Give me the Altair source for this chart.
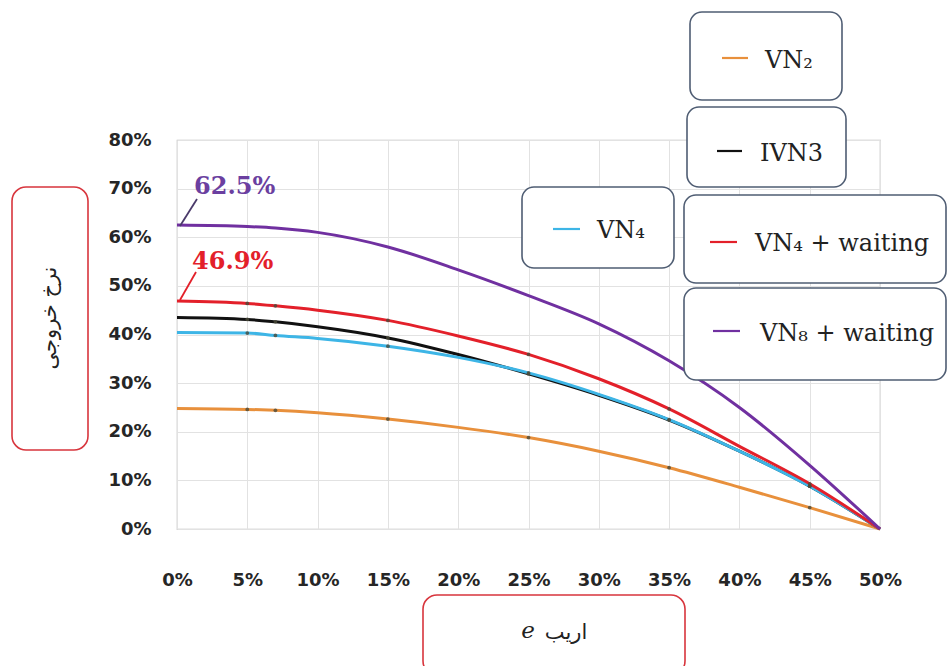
import altair as alt
import pandas as pd

# ---------------- data ----------------
e_vals = [0, 0.05, 0.07, 0.10, 0.15, 0.20, 0.25, 0.30, 0.35, 0.40, 0.45, 0.50]
vn2 = [24.8, 24.6, 24.4, 23.9, 22.6, 20.9, 18.8, 16.0, 12.6, 8.6, 4.4, 0]
ivn3 = [43.5, 43.1, 42.6, 41.6, 39.3, 35.9, 31.9, 27.5, 22.4, 16.0, 8.8, 0]
vn4 = [40.4, 40.3, 39.8, 39.2, 37.6, 35.3, 32.1, 27.7, 22.5, 16.0, 8.8, 0]
vn4w = [46.9, 46.4, 45.9, 45.0, 42.9, 39.7, 35.9, 30.9, 24.7, 17.0, 9.3, 0]
vn8w = [62.5, 62.2, 61.9, 61.0, 58.0, 53.3, 48.0, 42.2, 34.6, 25.0, 13.1, 0]

series_names = ["VN2", "IVN3", "VN4", "VN4 + waiting", "VN8 + waiting"]
series_vals = [vn2, ivn3, vn4, vn4w, vn8w]
series_colors = ["#E8903C", "#111111", "#3DB5E6", "#E3202A", "#7030A0"]
marker_e = [0.05, 0.07, 0.15, 0.25, 0.35, 0.45]
marker_series = ["VN2", "IVN3", "VN4", "VN4 + waiting"]

x_ticks = [0, 0.05, 0.10, 0.15, 0.20, 0.25, 0.30, 0.35, 0.40, 0.45, 0.50]
y_ticks = [0, 0.1, 0.2, 0.3, 0.4, 0.5, 0.6, 0.7, 0.8]

legend_labels = ["VN\u2082", "IVN3", "VN\u2084", "VN\u2084 + waiting", "VN\u2088 + waiting"]
y_title = "نرخ خروجی"
x_title_fa = "اریب"
x_title_sym = "e"
peak_labels = ["62.5%", "46.9%"]

rows = []
for name, vals in zip(series_names, series_vals):
    for e, v in zip(e_vals, vals):
        rows.append({"e": e, "rate": v / 100.0, "series": name})
df = pd.DataFrame(rows)
df_markers = df[df["e"].isin(marker_e) & df["series"].isin(marker_series)]

# ---------------- layout ----------------
OX, OY = 177, 140          # plot origin in the page
W, H = 703, 389


def rx(x):
    return x - OX


def ry(y):
    return y - OY


one = pd.DataFrame({"k": [0]})

xscale = alt.Scale(domain=[0, 0.5], nice=False)
yscale = alt.Scale(domain=[0, 0.8], nice=False)
color = alt.Color("series:N", scale=alt.Scale(domain=series_names, range=series_colors), legend=None)

axis_common = dict(
    format=".0%",
    labelFont="DejaVu Sans",
    labelFontWeight="bold",
    labelFontSize=18,
    labelColor="#262626",
    ticks=False,
    domain=False,
    grid=True,
    gridColor="#e2e2e2",
    gridWidth=1,
    title=None,
    labelFlush=False,
    labelOverlap=False,
)

lines = alt.Chart(df).mark_line(strokeWidth=3, interpolate="monotone").encode(
    x=alt.X("e:Q", scale=xscale, axis=alt.Axis(values=x_ticks, labelPadding=42, **axis_common)),
    y=alt.Y("rate:Q", scale=yscale, axis=alt.Axis(values=y_ticks, labelPadding=26, **axis_common)),
    color=color,
    order=alt.Order("e:Q"),
)

markers = alt.Chart(df_markers).mark_point(filled=True, size=14, opacity=0.8, color="#4a4a3a").encode(
    x=alt.X("e:Q", scale=xscale),
    y=alt.Y("rate:Q", scale=yscale),
)

layers = [lines, markers]


def box(x1, y1, x2, y2, stroke, radius=12, sw=1.6):
    return alt.Chart(one).mark_rect(
        fill="white", stroke=stroke, strokeWidth=sw, cornerRadius=radius
    ).encode(
        x=alt.value(rx(x1)), x2=alt.value(rx(x2)),
        y=alt.value(ry(y1)), y2=alt.value(ry(y2)),
    )


def seg(x1, y1, x2, y2, col, sw=2.2):
    return alt.Chart(one).mark_rule(color=col, strokeWidth=sw).encode(
        x=alt.value(rx(x1)), x2=alt.value(rx(x2)),
        y=alt.value(ry(y1)), y2=alt.value(ry(y2)),
    )


def txt(x, y, s, size, col="#222222", font="DejaVu Serif", align="left",
        weight="normal", style="normal", angle=0):
    return alt.Chart(one).mark_text(
        text=s, fontSize=size, color=col, font=font, align=align,
        baseline="middle", fontWeight=weight, fontStyle=style, angle=angle,
    ).encode(x=alt.value(rx(x)), y=alt.value(ry(y)))


# peak annotations
layers += [
    seg(180, 226, 197, 199, "#4a3a6a", 1.8),
    txt(194, 187, peak_labels[0], 24, "#6B3FA0", "DejaVu Serif", weight="bold"),
    seg(180, 300, 196, 272, "#E3202A", 1.8),
    txt(192, 262, peak_labels[1], 24, "#E3202A", "DejaVu Serif", weight="bold"),
]

# axis title boxes
red_box = "#D8353D"
layers += [
    box(12, 187, 88, 450, red_box, 14),
    txt(50, 318, y_title, 21, "#222222", "DejaVu Sans", align="center", angle=270),
    box(423, 595, 685, 675, red_box, 14),
    txt(566, 633, x_title_fa, 21, "#222222", "DejaVu Sans", align="center"),
    txt(528, 631, x_title_sym, 23, "#222222", "DejaVu Serif", align="center", style="italic"),
]

# legend boxes
lg = "#4F5D73"
legend_geo = [
    # box x1, y1, x2, y2, line x1, x2, y, text x, text y
    (690, 12, 842, 100, 722, 748, 58, 765, 61),
    (687, 107, 846, 187, 717, 742, 151, 760, 154),
    (522, 187, 674, 268, 553, 580, 229, 597, 231),
    (684, 195, 946, 283, 710, 737, 242, 755, 244),
    (684, 288, 946, 380, 713, 740, 331, 760, 334),
]
for (bx1, by1, bx2, by2, lx1, lx2, ly, tx, ty), lab, col in zip(
        legend_geo, legend_labels, series_colors):
    layers += [
        box(bx1, by1, bx2, by2, lg, 12),
        seg(lx1, ly, lx2, ly, col, 2.2),
        txt(tx, ty, lab, 24, "#222222", "DejaVu Serif"),
    ]

chart = alt.layer(*layers).properties(
    width=W,
    height=H,
    padding={"left": OX, "top": OY, "right": 947 - OX - W, "bottom": 666 - OY - H},
    autosize=alt.AutoSizeParams(type="none"),
    background="white",
).configure_view(stroke="#BDBDBD", strokeWidth=1.2)

chart.save("out.html", embed_options={"renderer": "svg", "actions": False})
